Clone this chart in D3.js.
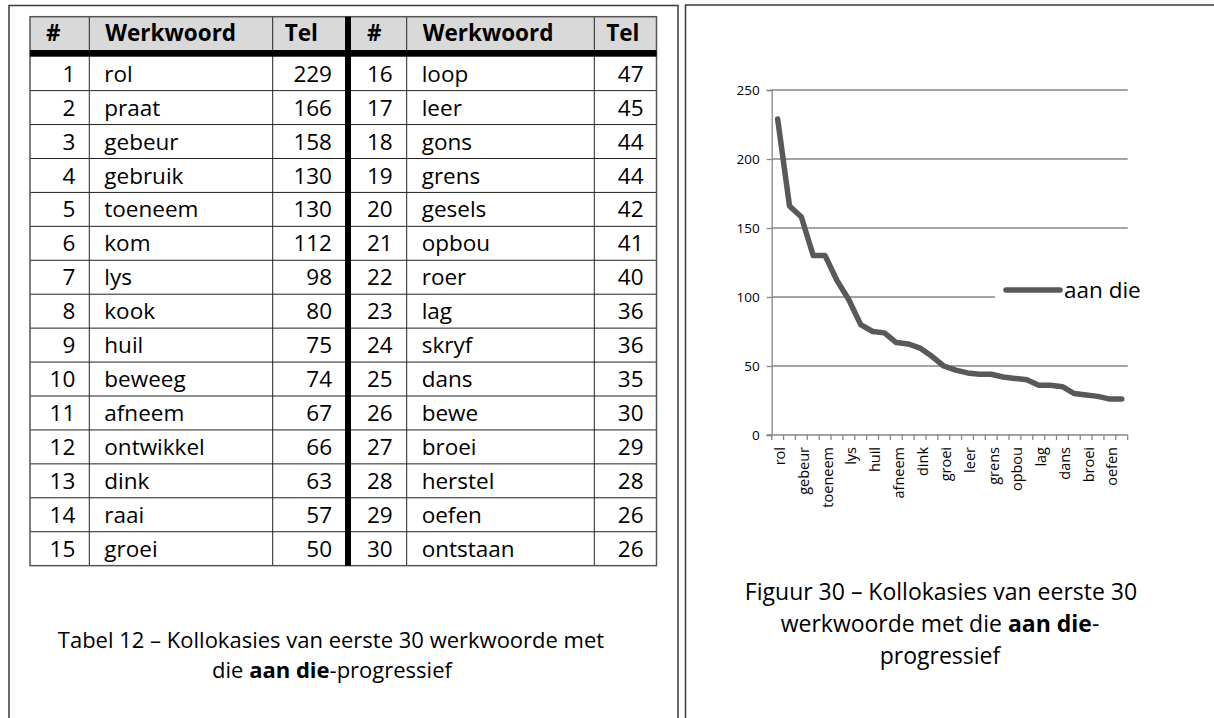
<!DOCTYPE html>
<html>
<head>
<meta charset="utf-8">
<script src="https://cdn.jsdelivr.net/npm/d3@7"></script>
<style>
  html, body { margin: 0; padding: 0; background: #fff; }
  svg { display: block; font-family: "Open Sans", sans-serif; }
</style>
</head>
<body>
<div id="chart"></div>
<script>
// Werkwoorde en tellings (rangorde 1-30)
const verbs = ["rol", "praat", "gebeur", "gebruik", "toeneem", "kom", "lys", "kook", "huil", "beweeg",
  "afneem", "ontwikkel", "dink", "raai", "groei", "loop", "leer", "gons", "grens", "gesels",
  "opbou", "roer", "lag", "skryf", "dans", "bewe", "broei", "herstel", "oefen", "ontstaan"];
const counts = [229, 166, 158, 130, 130, 112, 98, 80, 75, 74,
  67, 66, 63, 57, 50, 47, 45, 44, 44, 42,
  41, 40, 36, 36, 35, 30, 29, 28, 26, 26];
const yTicks = [0, 50, 100, 150, 200, 250];
const headers = ["#", "Werkwoord", "Tel"];
const seriesName = "aan die";

const W = 1214, H = 718;
const svg = d3.select("#chart").append("svg")
  .attr("width", W).attr("height", H);

// Two page frames
svg.append("rect").attr("x", 9).attr("y", 5.5).attr("width", 669).attr("height", 740)
  .attr("fill", "none").attr("stroke", "#3a3a3a").attr("stroke-width", 1.5);
svg.append("rect").attr("x", 685.5).attr("y", 5).attr("width", 560).attr("height", 740)
  .attr("fill", "none").attr("stroke", "#3a3a3a").attr("stroke-width", 1.5);

// ---------- Table ----------
const table = svg.append("g");
const colX = [30, 89.3, 272.7, 345, 351, 406.7, 594.3, 656.5];
const tTop = 16.7, headBot = 50, rowTop = 56.7, rowH = 33.93;
const tBot = rowTop + rowH * 15;
const fs = 22.5;

table.append("rect").attr("x", colX[0]).attr("y", tTop)
  .attr("width", colX[7] - colX[0]).attr("height", headBot - tTop).attr("fill", "#d9d9d9");

// column starts for each half
const halves = [[colX[0], colX[1], colX[2], colX[3]], [colX[4], colX[5], colX[6], colX[7]]];

halves.forEach((c, h) => {
  headers.forEach((t, i) => {
    table.append("text").attr("x", c[i] + (i === 2 ? 12 : 16)).attr("y", (tTop + headBot) / 2 + fs * 0.36)
      .attr("font-size", fs).attr("font-weight", "bold").attr("fill", "#000").text(t);
  });
  d3.range(15).forEach(r => {
    const k = h * 15 + r;
    const cy = rowTop + rowH * r + rowH / 2 + fs * 0.36;
    table.append("text").attr("x", c[1] - 14).attr("y", cy).attr("text-anchor", "end")
      .attr("font-size", fs).text(k + 1);
    table.append("text").attr("x", c[1] + 15).attr("y", cy)
      .attr("font-size", fs).text(verbs[k]);
    table.append("text").attr("x", c[3] - 13).attr("y", cy).attr("text-anchor", "end")
      .attr("font-size", fs).text(counts[k]);
  });
});

// thin grid lines
d3.range(1, 15).forEach(r => {
  const y = rowTop + rowH * r;
  table.append("line").attr("x1", colX[0]).attr("x2", colX[7]).attr("y1", y).attr("y2", y)
    .attr("stroke", "#222").attr("stroke-width", 1);
});
[colX[1], colX[2], colX[5], colX[6]].forEach(x => {
  table.append("line").attr("x1", x).attr("x2", x).attr("y1", tTop).attr("y2", tBot)
    .attr("stroke", "#222").attr("stroke-width", 1);
});
table.append("rect").attr("x", colX[0]).attr("y", tTop)
  .attr("width", colX[7] - colX[0]).attr("height", tBot - tTop)
  .attr("fill", "none").attr("stroke", "#555").attr("stroke-width", 1.5);
// thick separators
table.append("rect").attr("x", colX[0]).attr("y", headBot).attr("width", colX[7] - colX[0])
  .attr("height", rowTop - headBot).attr("fill", "#000");
table.append("rect").attr("x", colX[3]).attr("y", tTop).attr("width", colX[4] - colX[3])
  .attr("height", tBot - tTop).attr("fill", "#000");

// caption table
const capFs = 23;
const cap1 = svg.append("text").attr("x", 331).attr("y", 648).attr("text-anchor", "middle")
  .attr("font-size", 22);
cap1.append("tspan").text("Tabel 12 \u2013 Kollokasies van eerste 30 werkwoorde met");
const cap2 = svg.append("text").attr("x", 332).attr("y", 678).attr("text-anchor", "middle")
  .attr("font-size", 22);
cap2.append("tspan").text("die ");
cap2.append("tspan").attr("font-weight", "bold").text("aan die");
cap2.append("tspan").text("-progressief");

// ---------- Line chart ----------
const plot = { left: 771.7, right: 1127.7, top: 90, bottom: 435 };
const x = d3.scaleBand().domain(verbs).range([plot.left, plot.right]).paddingInner(0).paddingOuter(0);
const y = d3.scaleLinear().domain([0, 250]).range([plot.bottom, plot.top]);
const gridColor = "#868686";

const g = svg.append("g");

// gridlines
g.selectAll(".grid").data(yTicks.filter(d => d > 0)).enter().append("line")
  .attr("x1", plot.left).attr("x2", d => d === 100 ? 995 : plot.right)
  .attr("y1", d => y(d)).attr("y2", d => y(d))
  .attr("stroke", gridColor).attr("stroke-width", 1.3);

// y axis
const yAxis = g.append("g").attr("transform", `translate(${plot.left},0)`)
  .call(d3.axisLeft(y).tickValues(yTicks).tickSize(5).tickPadding(7));
yAxis.select(".domain").attr("stroke", gridColor).attr("stroke-width", 1.3);
yAxis.selectAll(".tick line").attr("stroke", gridColor).attr("stroke-width", 1.3);
yAxis.selectAll("text").attr("font-family", "Open Sans").attr("font-size", 13.5).attr("fill", "#000");

// x axis: ticks at category boundaries
const xAxisG = g.append("g").attr("transform", `translate(0,${plot.bottom})`);
xAxisG.append("line").attr("x1", plot.left - 5).attr("x2", plot.right)
  .attr("stroke", gridColor).attr("stroke-width", 1.3);
const bounds = verbs.map(v => x(v)).concat([plot.right]);
xAxisG.selectAll(".xt").data(bounds).enter().append("line")
  .attr("x1", d => d).attr("x2", d => d).attr("y1", 0).attr("y2", 5)
  .attr("stroke", gridColor).attr("stroke-width", 1.3);
xAxisG.selectAll(".xl").data(verbs.filter((v, i) => i % 2 === 0)).enter().append("text")
  .attr("transform", d => `translate(${x(d) + x.bandwidth() / 2 + 7.5},12) rotate(-90)`)
  .attr("text-anchor", "end").attr("font-size", 14.5).text(d => d);

// the series line
const line = d3.line().x((d, i) => x(verbs[i]) + x.bandwidth() / 2).y(d => y(d));
g.append("path").datum(counts).attr("d", line)
  .attr("fill", "none").attr("stroke", "#595959").attr("stroke-width", 5.5)
  .attr("stroke-linejoin", "round").attr("stroke-linecap", "round");

// legend
g.append("line").attr("x1", 1006).attr("x2", 1060).attr("y1", y(100) - 7).attr("y2", y(100) - 7)
  .attr("stroke", "#595959").attr("stroke-width", 5.5).attr("stroke-linecap", "round");
g.append("text").attr("x", 1064).attr("y", y(100) + 1).attr("font-size", 22.5).text(seriesName);

// caption figure
svg.append("text").attr("x", 941).attr("y", 599.5).attr("text-anchor", "middle").attr("font-size", capFs)
  .text("Figuur 30 \u2013 Kollokasies van eerste 30");
const f2 = svg.append("text").attr("x", 940).attr("y", 631.5).attr("text-anchor", "middle").attr("font-size", capFs);
f2.append("tspan").text("werkwoorde met die ");
f2.append("tspan").attr("font-weight", "bold").text("aan die");
f2.append("tspan").text("-");
svg.append("text").attr("x", 940).attr("y", 663.5).attr("text-anchor", "middle").attr("font-size", capFs)
  .text("progressief");
</script>
</body>
</html>
